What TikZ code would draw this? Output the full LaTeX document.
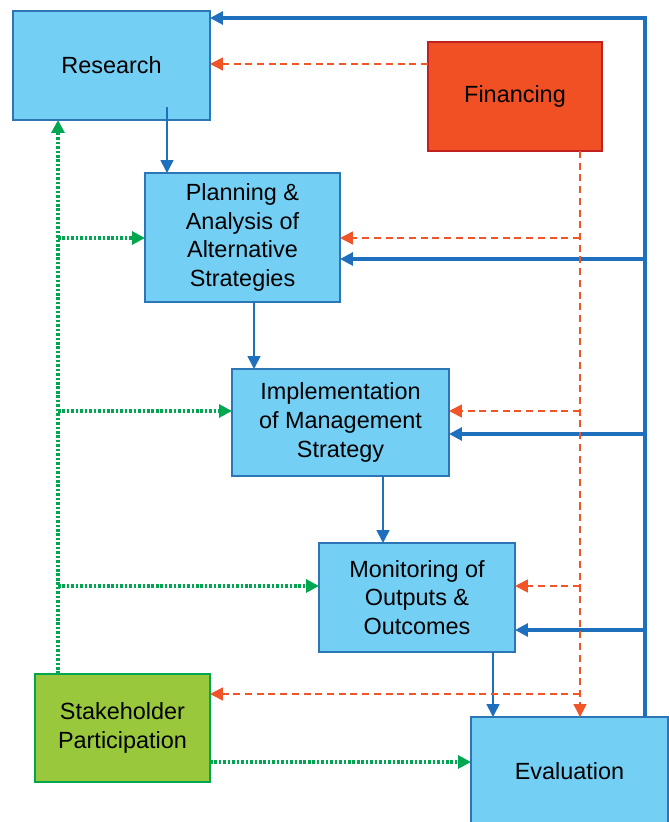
\documentclass[tikz,border=0pt]{standalone}
\usepackage{fontspec}
\setmainfont{Liberation Sans}
\usetikzlibrary{arrows.meta,positioning}

\definecolor{boxblue}{RGB}{46,117,182}
\definecolor{skyfill}{RGB}{116,207,244}
\definecolor{finfill}{RGB}{240,80,35}
\definecolor{finedge}{RGB}{192,32,31}
\definecolor{stkfill}{RGB}{154,200,60}
\definecolor{stkedge}{RGB}{0,166,80}
\definecolor{linkblue}{RGB}{30,112,190}
\definecolor{fundred}{RGB}{240,85,40}

\begin{document}
\begin{tikzpicture}[x=0.03cm,y=-0.03cm,
    box/.style={draw=boxblue,fill=skyfill,line width=1.5pt,align=center,inner sep=0pt,outer sep=0pt,
        font=\fontsize{20}{24.5}\selectfont},
    tip/.style={-{Triangle[length=11pt,width=11pt]}},
    fbk/.style={tip,draw=linkblue,line width=2.6pt},
    flow/.style={tip,draw=linkblue,line width=1.4pt},
    fund/.style={tip,draw=fundred,line width=1.4pt,dash pattern=on 6pt off 4pt},
    link/.style={tip,draw=stkedge,line width=2.6pt,dash pattern=on 2.2pt off 1.6pt}]
  \useasboundingbox (0,0) rectangle (668,822);

  % boxes
  \node[box,minimum width=5.91cm,minimum height=3.27cm] (Research) at (111.5,65.5) {Research};
  \node[box,fill=finfill,draw=finedge,minimum width=5.22cm,minimum height=3.27cm] (Financing) at (515,96.5) {Financing};
  \node[box,minimum width=5.85cm,minimum height=3.87cm] (Planning) at (242.5,237.5) {Planning \&\\Analysis of\\Alternative\\Strategies};
  \node[box,minimum width=6.51cm,minimum height=3.21cm] (Implementation) at (340.5,422.5) {Implementation\\of Management\\Strategy};
  \node[box,minimum width=5.88cm,minimum height=3.27cm] (Monitoring) at (417,597.5) {Monitoring of\\Outputs \&\\Outcomes};
  \node[box,fill=stkfill,draw=stkedge,minimum width=5.25cm,minimum height=3.24cm] (Stakeholder) at (122.5,728) {Stakeholder\\Participation};
  \node[box,minimum width=5.91cm,minimum height=3.24cm] (Evaluation) at (569.5,771) {Evaluation};

  % main sequence
  \coordinate (d) at (167,107);
  \draw[flow] (d) -- (Planning.north -| d);
  \foreach \a/\b/\x in {Planning/Implementation/254,Implementation/Monitoring/383,Monitoring/Evaluation/493}{
    \coordinate (d) at (\x,0);
    \draw[flow] (\a.south -| d) -- (\b.north -| d);
  }

  % feedback from evaluation
  \coordinate (top) at (645,18);
  \draw[fbk] (Evaluation.north -| top) -- (top) -- (top -| Research.east);
  \foreach \n/\y in {Planning/259,Implementation/434,Monitoring/630}{
    \coordinate (b) at (645,\y);
    \draw[fbk] (b) -- (b -| \n.east);
  }

  % financing
  \coordinate (fr) at (428,64);
  \draw[fund] (fr) -- (fr -| Research.east);
  \coordinate (fin) at (580,0);
  \draw[fund] (Financing.south -| fin) -- (Evaluation.north -| fin);
  \foreach \n/\y in {Planning/238,Implementation/411,Monitoring/586,Stakeholder/694}{
    \coordinate (f) at (580,\y);
    \draw[fund] (f) -- (f -| \n.east);
  }

  % stakeholders
  \coordinate (stk) at (58,0);
  \draw[link] (Stakeholder.north -| stk) -- (Research.south -| stk);
  \foreach \n/\y in {Planning/238,Implementation/411,Monitoring/586}{
    \coordinate (s) at (58,\y);
    \draw[link] (s) -- (s -| \n.west);
  }
  \coordinate (se) at (210,762);
  \draw[link] (se) -- (se -| Evaluation.west);
\end{tikzpicture}
\end{document}
